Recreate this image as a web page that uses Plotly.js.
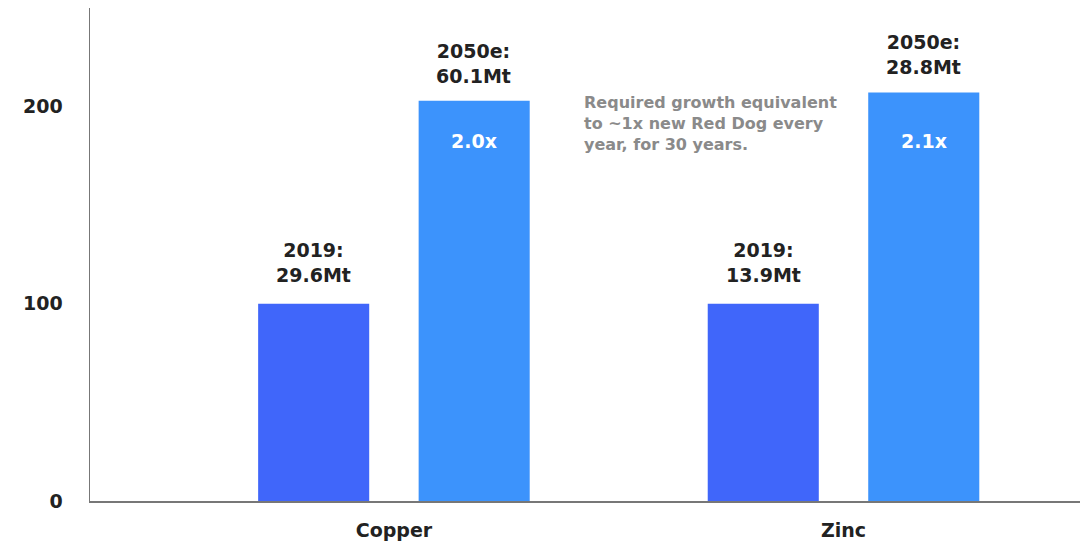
<!DOCTYPE html>
<html>
<head>
<meta charset="utf-8">
<script src="https://cdn.plot.ly/plotly-3.0.1.min.js"></script>
<style>html,body{margin:0;padding:0;background:#fff;}#chart{width:1087px;height:547px;}</style>
</head>
<body>
<div id="chart"></div>
<script>
const categories = ["Copper", "Zinc"];
const values2019 = [100, 100];
const values2050 = [203.0, 207.2];
const labels2019 = ["2019:<br>29.6Mt", "2019:<br>13.9Mt"];
const labels2050 = ["2050e:<br>60.1Mt", "2050e:<br>28.8Mt"];
const multiples = ["2.0x", "2.1x"];
const yTicks = [0, 100, 200];
const noteText = "Required growth equivalent<br>to ~1x new Red Dog every<br>year, for 30 years.";

const FONT = "DejaVu Sans";
const dark = "#222222";

const traces = [
  {type: "bar", name: "2019", x: categories, y: values2019, marker: {color: "#4066FA"}, hoverinfo: "skip"},
  {type: "bar", name: "2050e", x: categories, y: values2050, marker: {color: "#3C93FC"}, hoverinfo: "skip"}
];

const off = 80;
const annotations = [];
categories.forEach((c, i) => {
  annotations.push({x: c, y: values2019[i], xref: "x", yref: "y", xshift: -off, yshift: 16, yanchor: "bottom",
    text: labels2019[i], showarrow: false, font: {family: FONT, size: 19, color: dark, weight: "bold"}});
  annotations.push({x: c, y: values2050[i], xref: "x", yref: "y", xshift: off, yshift: 12, yanchor: "bottom",
    text: labels2050[i], showarrow: false, font: {family: FONT, size: 19, color: dark, weight: "bold"}});
  annotations.push({x: c, y: 0.73, xref: "x", yref: "paper", xshift: off, yanchor: "middle",
    text: multiples[i], showarrow: false, font: {family: FONT, size: 19, color: "#ffffff", weight: "bold"}});
});
annotations.push({x: 0.497, y: 0.832, xref: "paper", yref: "paper", xanchor: "left", yanchor: "top", align: "left",
  text: noteText, showarrow: false, font: {family: FONT, size: 16, color: "#8a8a8a", weight: "bold"}});

const layout = {
  width: 1087, height: 547,
  margin: {l: 90, r: 7, t: 8, b: 46},
  paper_bgcolor: "#ffffff", plot_bgcolor: "#ffffff",
  showlegend: false,
  barmode: "group",
  bargap: 0.286, bargroupgap: 0.308,
  font: {family: FONT, color: dark},
  xaxis: {type: "category", range: [-0.676, 1.526], showline: true, linecolor: "#777777", linewidth: 1.5,
    showgrid: false, zeroline: false, ticks: "", ticklabelstandoff: 12,
    tickfont: {family: FONT, size: 19, color: dark, weight: "bold"}},
  yaxis: {range: [0, 250], tickvals: yTicks, showline: true, linecolor: "#777777", linewidth: 1.5,
    showgrid: false, zeroline: false, ticks: "", ticklabelstandoff: 22,
    tickfont: {family: FONT, size: 19, color: dark, weight: "bold"}},
  annotations: annotations
};

Plotly.newPlot("chart", traces, layout, {displayModeBar: false, staticPlot: true});
</script>
</body>
</html>
